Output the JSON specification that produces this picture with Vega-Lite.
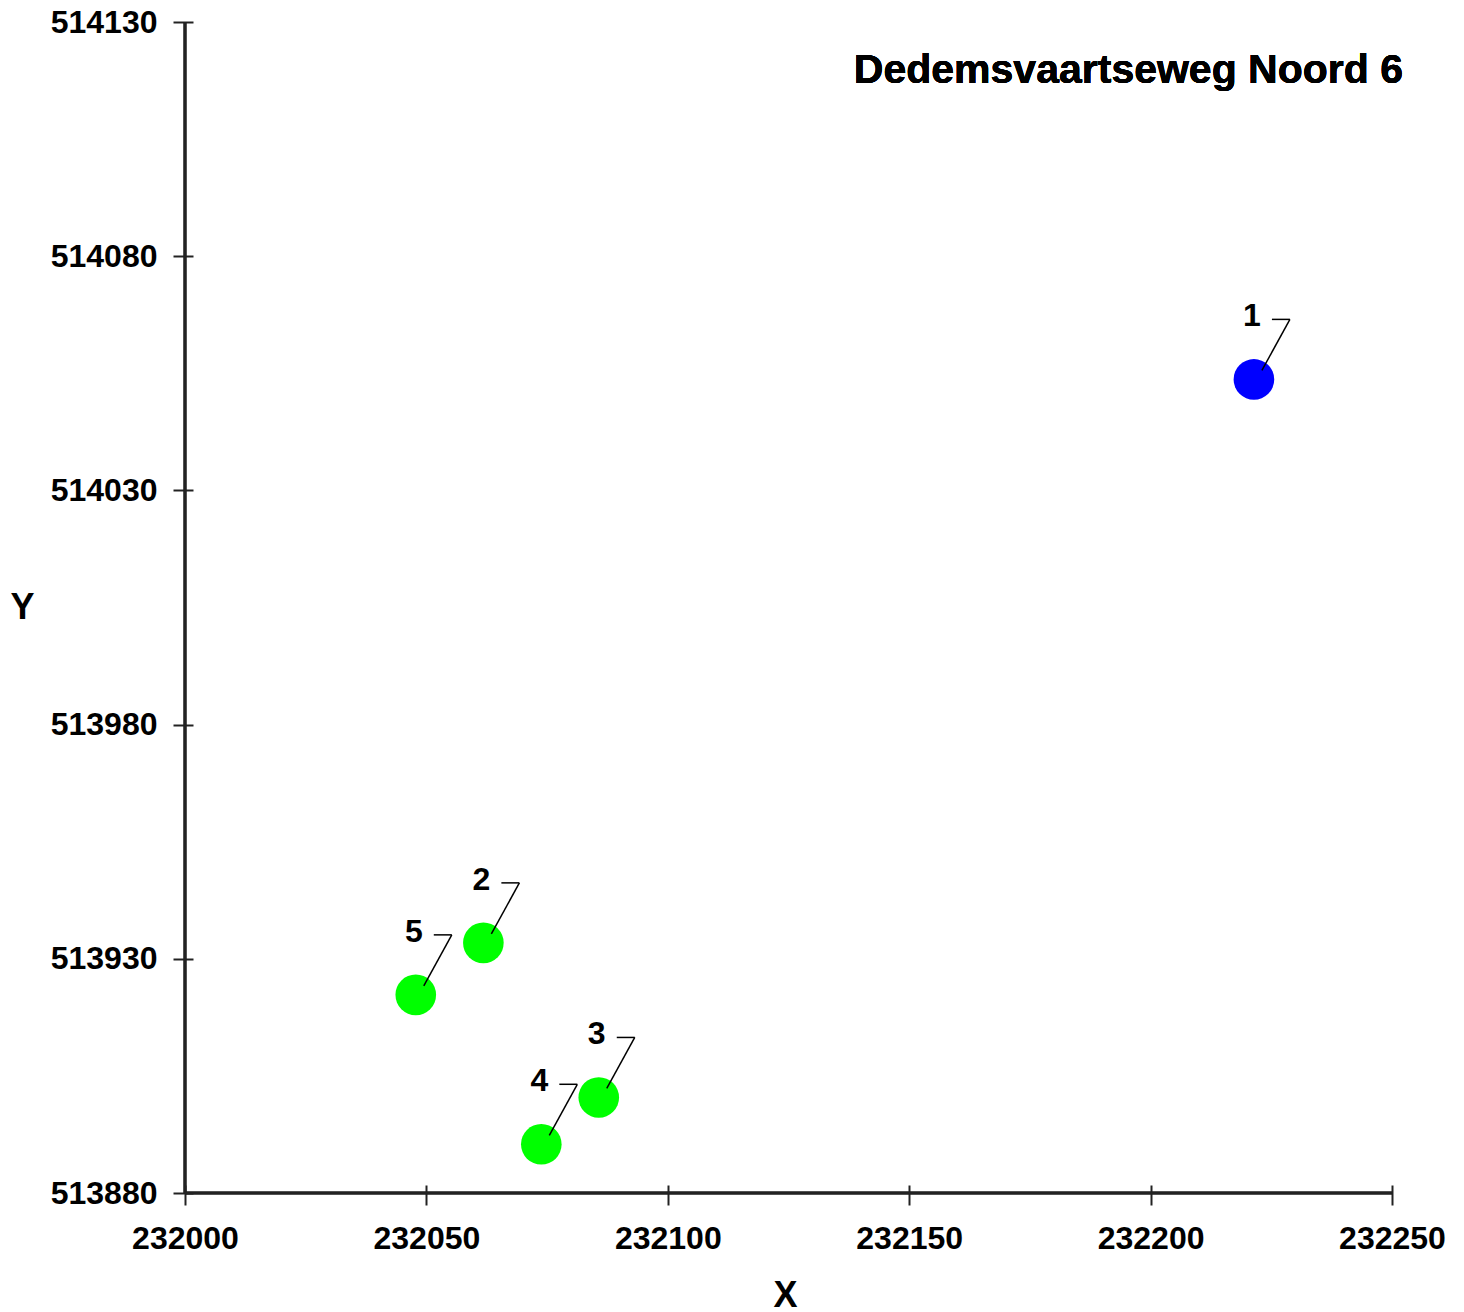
{
  "$schema": "https://vega.github.io/schema/vega-lite/v6.json",
  "width": 1207,
  "height": 1171,
  "autosize": {"type": "none"},
  "padding": {"left": 185, "top": 22, "right": 72, "bottom": 119},
  "background": "white",
  "config": {
    "view": {"stroke": null},
    "font": "Liberation Sans",
    "axis": {
      "grid": false,
      "domain": false,
      "ticks": true,
      "tickColor": "#222222",
      "tickWidth": 2,
      "tickSize": 20,
      "offset": -8,
      "labelFlush": false,
      "labelOverlap": false,
      "labelFont": "Liberation Sans",
      "labelFontWeight": "bold",
      "labelFontSize": 32,
      "labelColor": "black",
      "titleFont": "Liberation Sans",
      "titleFontWeight": "bold",
      "titleFontSize": 36,
      "titleColor": "black"
    }
  },
  "data": {
    "values": [
      {"id": "1", "X": 232221.4, "Y": 514053.7, "groep": "A"},
      {"id": "2", "X": 232061.8, "Y": 513933.4, "groep": "B"},
      {"id": "3", "X": 232085.7, "Y": 513900.4, "groep": "B"},
      {"id": "4", "X": 232073.8, "Y": 513890.4, "groep": "B"},
      {"id": "5", "X": 232047.8, "Y": 513922.3, "groep": "B"}
    ]
  },
  "encoding": {
    "x": {
      "field": "X",
      "type": "quantitative",
      "scale": {"domain": [232000, 232250], "nice": false, "zero": false},
      "axis": {
        "values": [232000, 232050, 232100, 232150, 232200, 232250],
        "format": "d",
        "labelPadding": 18,
        "labelBaseline": "top",
        "title": "X",
        "titleX": 600,
        "titleY": 110,
        "titleAlign": "center",
        "titleBaseline": "middle"
      }
    },
    "y": {
      "field": "Y",
      "type": "quantitative",
      "scale": {"domain": [513880, 514130], "nice": false, "zero": false},
      "axis": {
        "values": [513880, 513930, 513980, 514030, 514080, 514130],
        "format": "d",
        "labelPadding": 16,
        "title": "Y",
        "titleAngle": 0,
        "titleX": -171,
        "titleY": 585,
        "titleAlign": "center",
        "titleBaseline": "middle"
      }
    }
  },
  "layer": [
    {
      "mark": {"type": "rule", "color": "#222222", "strokeWidth": 2.5},
      "encoding": {"x": {"datum": 232000, "type": "quantitative"}, "y": null}
    },
    {
      "mark": {"type": "rule", "color": "#222222", "strokeWidth": 2.5},
      "encoding": {"y": {"datum": 513880, "type": "quantitative"}, "x": null}
    },
    {
      "mark": {"type": "text", "text": "Dedemsvaartseweg Noord 6", "font": "Liberation Sans", "fontWeight": "bold", "fontSize": 41, "color": "black", "align": "right", "baseline": "alphabetic", "dx": 11, "dy": 61},
      "encoding": {"x": {"datum": 232250, "type": "quantitative"}, "y": {"datum": 514130, "type": "quantitative"}}
    },
    {
      "mark": {"type": "circle", "opacity": 1, "size": 1650},
      "encoding": {
        "color": {
          "field": "groep",
          "type": "nominal",
          "scale": {"domain": ["A", "B"], "range": ["#0000FF", "#00FF00"]},
          "legend": null
        }
      }
    },
    {
      "mark": {"type": "rule", "color": "black", "strokeWidth": 1.5, "xOffset": 8, "yOffset": -9, "x2Offset": 36, "y2Offset": -60},
      "encoding": {"x2": {"field": "X"}, "y2": {"field": "Y"}}
    },
    {
      "mark": {"type": "rule", "color": "black", "strokeWidth": 1.5, "xOffset": 36, "yOffset": -60, "x2Offset": 18, "y2Offset": -60},
      "encoding": {"x2": {"field": "X"}, "y2": {"field": "Y"}}
    },
    {
      "mark": {"type": "text", "font": "Liberation Sans", "fontWeight": "bold", "fontSize": 32, "color": "black", "align": "center", "baseline": "alphabetic", "dx": -2, "dy": -53},
      "encoding": {"text": {"field": "id"}}
    }
  ]
}
